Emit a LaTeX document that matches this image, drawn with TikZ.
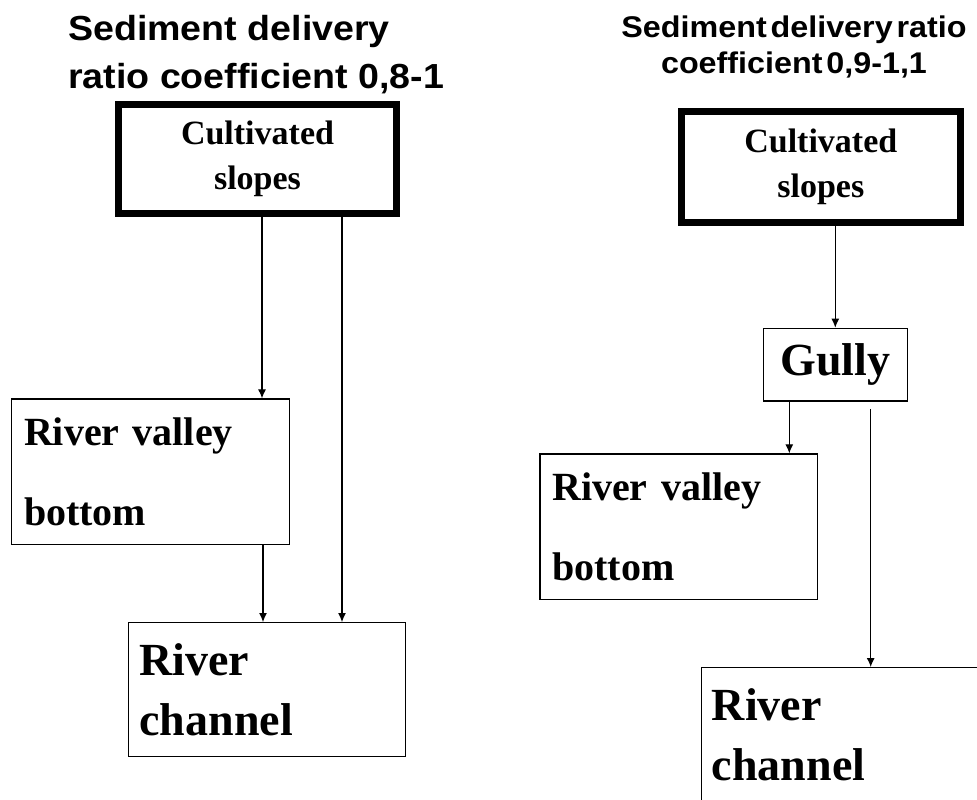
\documentclass[tikz,border=0pt]{standalone}
\usepackage{fontspec}
\setmainfont{Liberation Serif}
\newfontfamily\titlefont{Liberation Sans}[FakeStretch=1.08]
\usetikzlibrary{arrows.meta}
\tikzstyle{heavybox}=[draw, line width=7pt, align=center, inner sep=0pt, font=\bfseries\fontsize{34}{45}\selectfont]
\tikzstyle{lightbox}=[draw, line width=1.4pt, align=left, inner ysep=0pt]
\tikzstyle{flow}=[line width=1.1pt, -{Latex[length=9pt,width=8pt]}]
\newcommand{\valleyfont}{\bfseries\fontsize{40}{80}\selectfont}
\newcommand{\channelfont}{\bfseries\fontsize{46}{60}\selectfont}
\newcommand{\tightwords}{\spaceskip=.13em\relax}

\begin{document}
\begin{tikzpicture}[x=1pt, y=-1pt, every edge/.style={ draw } ]
\useasboundingbox (0,0) rectangle (977,800);
\clip (0,0) rectangle (977,800);
% left scheme
\node (title1) [anchor=north west, align=left, inner sep=0pt, font=\titlefont\bfseries\fontsize{34.8}{48}\selectfont] at (68,15) {Sediment delivery\\ratio coefficient 0,8-1};
\node[heavybox, minimum width=278, minimum height=109] (cult1) at (257.5,158.5) {Cultivated\\slopes};
\node[lightbox, minimum width=277.6, minimum height=145.3, text width=253, inner xsep=12, font=\valleyfont] (valley1) at (150.5,471.7) {River valley\\bottom};
\node[lightbox, minimum width=277.4, minimum height=134, text width=255, inner xsep=11, font=\channelfont] (channel1) at (267,689.7) {River\\channel};
% right scheme
\node (title2) [anchor=north, align=center, inner sep=0pt, font=\titlefont\bfseries\fontsize{29.9}{36}\selectfont] at (794,16) {\tightwords Sediment delivery ratio\\\tightwords coefficient 0,9-1,1};
\node[heavybox, minimum width=278.5, minimum height=111] (cult2) at (820.8,166.5) {Cultivated\\slopes};
\node[lightbox, minimum width=144, minimum height=72.7, font=\channelfont] (gully) at (835.3,364.7) {Gully};
\node[lightbox, minimum width=277.3, minimum height=145.3, text width=253, inner xsep=12, font=\valleyfont] (valley2) at (678.7,526.7) {River valley\\bottom};
\node[lightbox, minimum width=277.4, minimum height=134, text width=257, inner xsep=10, font=\channelfont] (channel2) at (840.4,734.7) {River\\channel};
\path[flow]
([xshift=4.5pt]cult1.south) edge ([xshift=4.5pt]cult1.south |- valley1.north)
([xshift=84.5pt]cult1.south) edge ([xshift=84.5pt]cult1.south |- channel1.north)
([xshift=-27pt]valley1.south east) edge ([xshift=-27pt]valley1.south east |- channel1.north)
(cult2.south -| gully.north) edge (gully.north)
([xshift=26.7pt]gully.south west) edge ([xshift=26.7pt]gully.south west |- valley2.north)
([xshift=-37.3pt]gully.south east) edge[shorten <=7pt] ([xshift=-37.3pt]gully.south east |- channel2.north)
;
\end{tikzpicture}
\end{document}
